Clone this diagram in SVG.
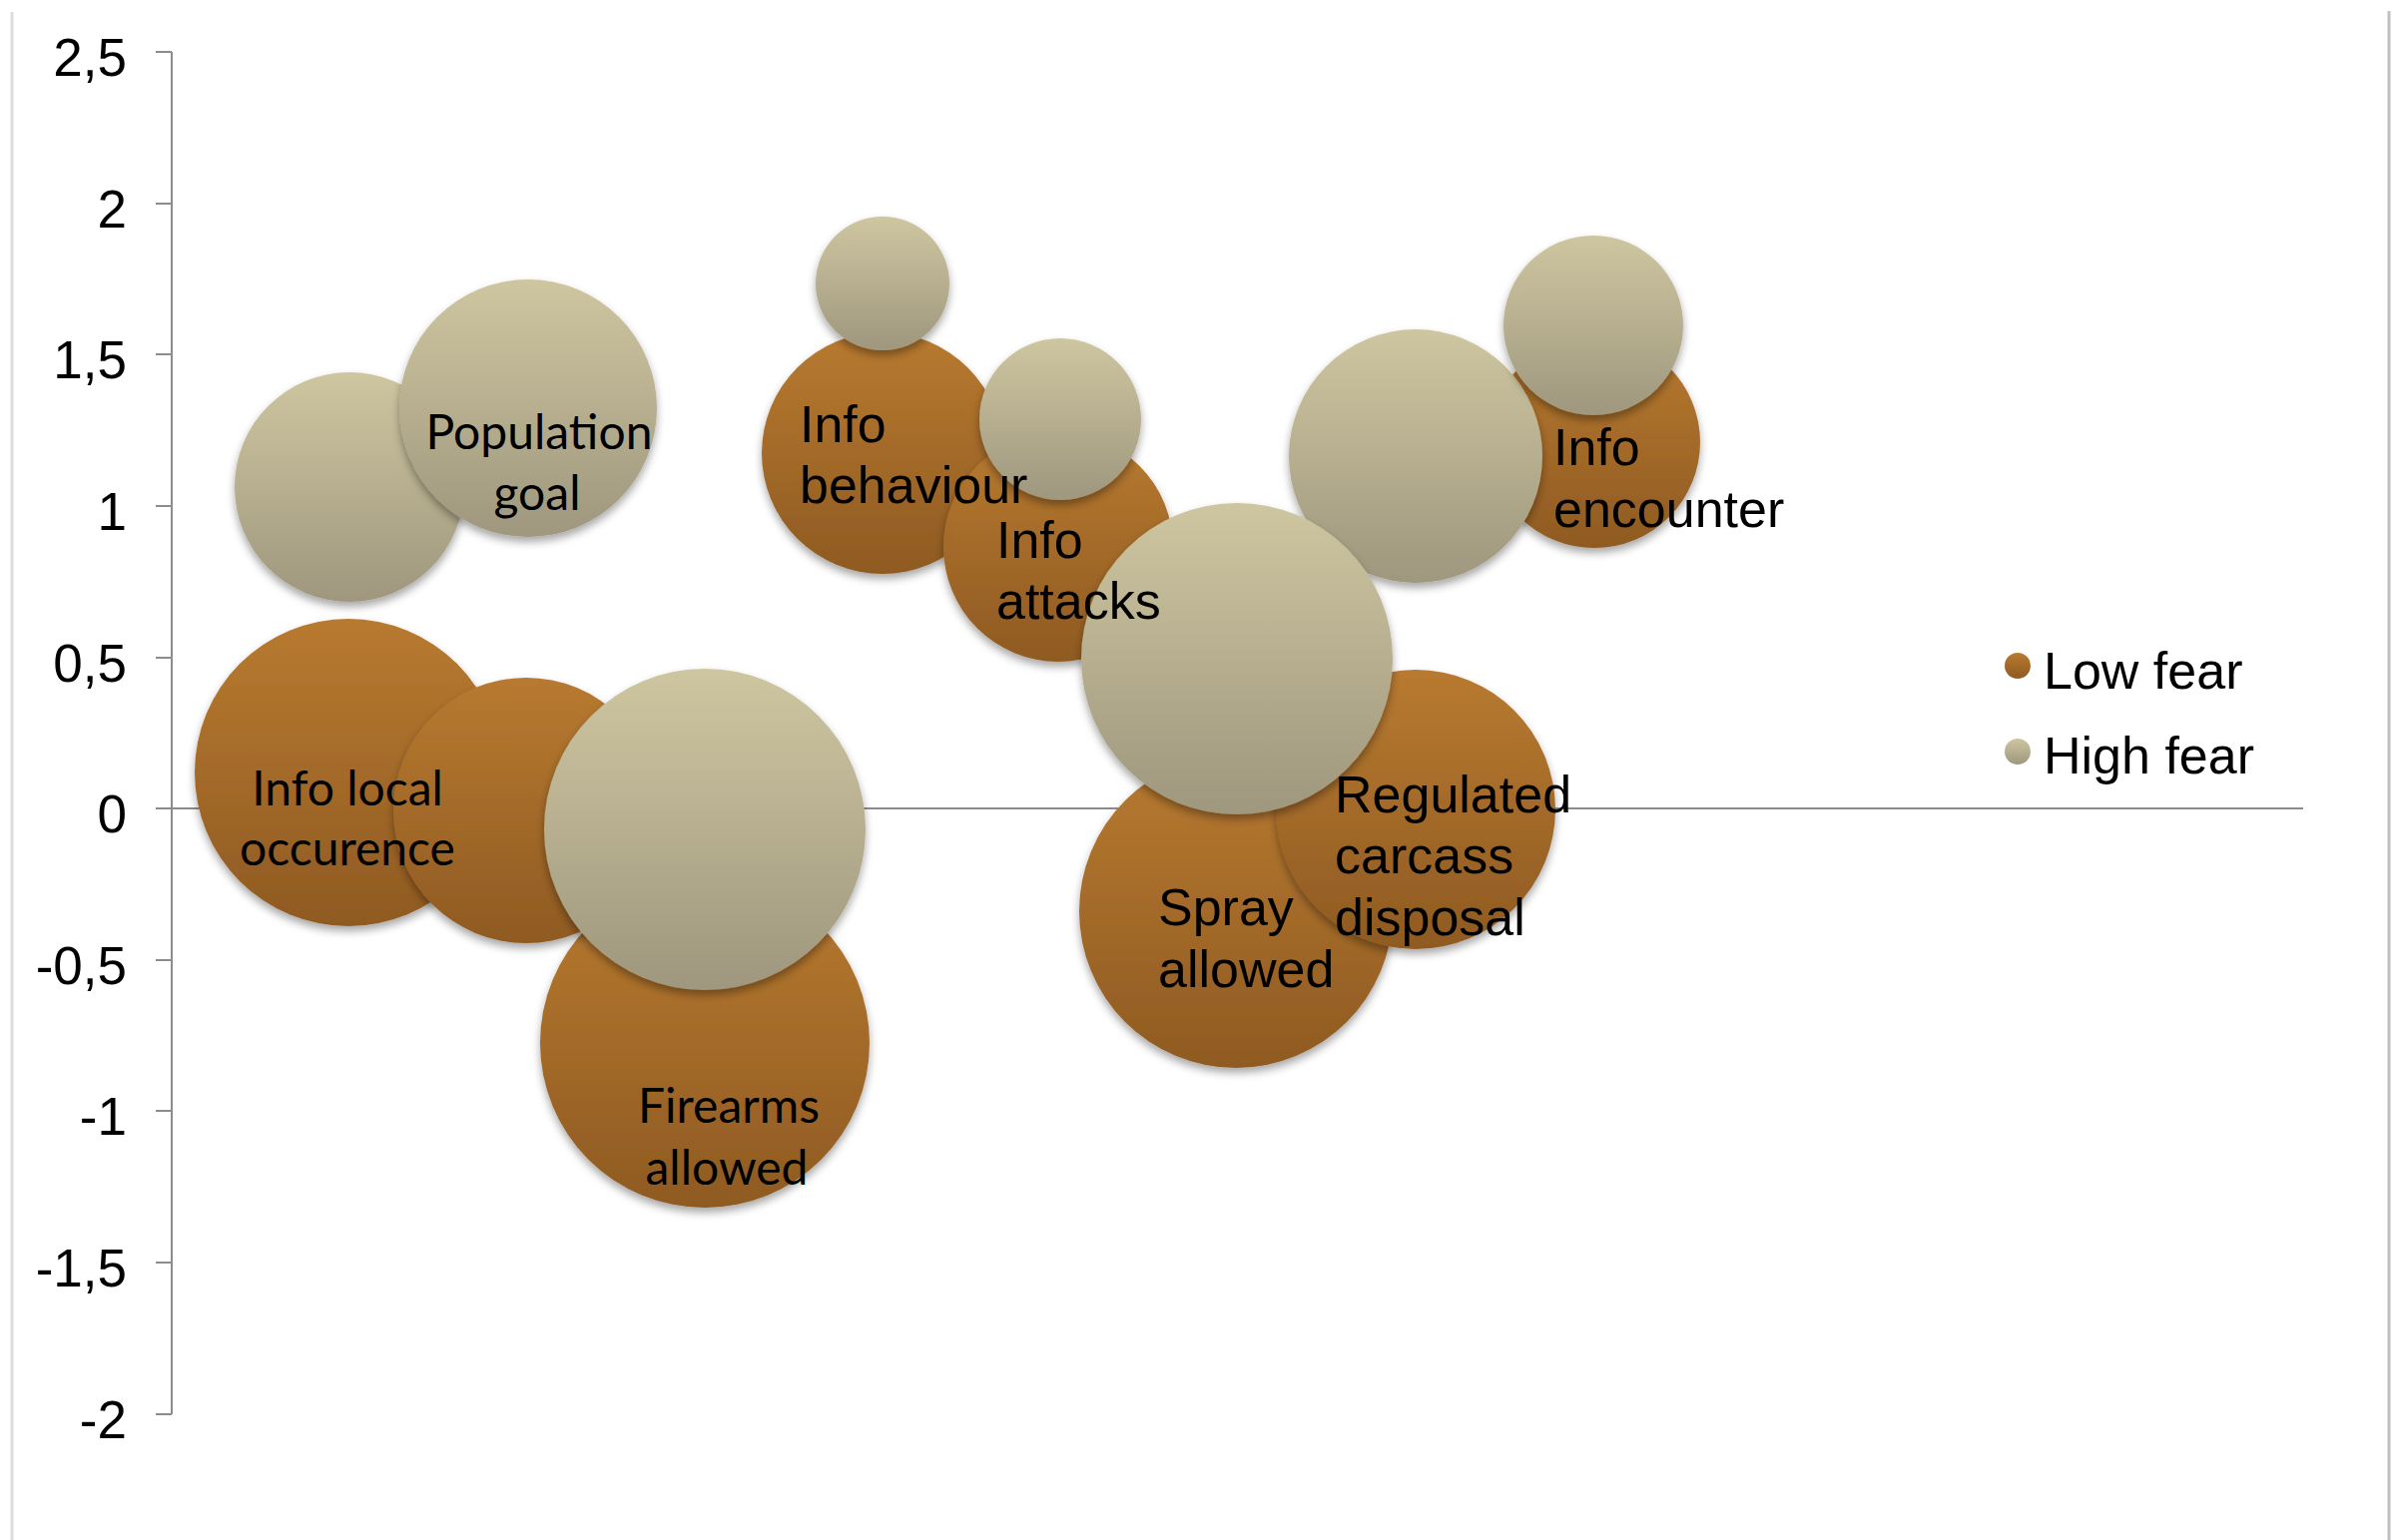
<svg xmlns="http://www.w3.org/2000/svg" width="2397" height="1543" viewBox="0 0 2397 1543">
<defs>
<linearGradient id="gLow" x1="0" y1="0" x2="0" y2="1">
<stop offset="0" stop-color="#b87a30"/>
<stop offset="1" stop-color="#8f5a22"/>
</linearGradient>
<linearGradient id="gHigh" x1="0" y1="0" x2="0" y2="1">
<stop offset="0" stop-color="#cec6a0"/>
<stop offset="1" stop-color="#9f977e"/>
</linearGradient>
<filter id="sh" x="-20%" y="-20%" width="140%" height="150%">
<feDropShadow dx="0" dy="5" stdDeviation="4" flood-color="#000" flood-opacity="0.35"/>
</filter>
<style>
.low{fill:url(#gLow);filter:url(#sh)}
.high{fill:url(#gHigh);filter:url(#sh)}
.ax{stroke:#8c8c8c;stroke-width:2;fill:none}
.tick{font-family:"Liberation Sans",Arial,sans-serif;font-size:53px;fill:#000;text-anchor:end}
.lbl{font-family:"Liberation Sans",Arial,sans-serif;font-size:52px;fill:#000}
.gill{font-family:Lato,"Liberation Sans",sans-serif;font-size:48px;fill:#000;text-anchor:middle}
.leg{font-family:"Liberation Sans",Arial,sans-serif;font-size:52px;fill:#000}
</style>
</defs>
<rect width="2397" height="1543" fill="#fff"/>
<line x1="12" y1="12" x2="12" y2="1543" stroke="#dcdcdc" stroke-width="3"/>
<line x1="2393" y1="11" x2="2393" y2="1543" stroke="#c0c0c0" stroke-width="3"/>

<g id="axes">
<line class="ax" x1="172" y1="52" x2="172" y2="1417"/>
<line class="ax" x1="172" y1="810" x2="2307" y2="810"/>
<path class="ax" d="M156 52H172M156 204H172M156 355H172M156 507H172M156 659H172M156 810H172M156 962H172M156 1113H172M156 1265H172M156 1417H172"/>
<text class="tick" x="127" y="76">2,5</text>
<text class="tick" x="127" y="228">2</text>
<text class="tick" x="127" y="379">1,5</text>
<text class="tick" x="127" y="531">1</text>
<text class="tick" x="127" y="683">0,5</text>
<text class="tick" x="127" y="834">0</text>
<text class="tick" x="127" y="986">-0,5</text>
<text class="tick" x="127" y="1137">-1</text>
<text class="tick" x="127" y="1289">-1,5</text>
<text class="tick" x="127" y="1441">-2</text>
</g>

<g id="connectors"></g>

<g id="low-series">
<circle id="low-firearms" class="low" cx="706" cy="1045" r="165"/>
<circle id="low-spray" class="low" cx="1238" cy="913" r="157"/>
<circle id="low-info-local" class="low" cx="349" cy="774" r="154"/>
<circle id="low-regulated" class="low" cx="1418" cy="811" r="140"/>
<circle id="low-population" class="low" cx="527" cy="812" r="133"/>
<circle id="low-info-behaviour" class="low" cx="884" cy="454" r="121"/>
<circle id="low-info-attacks" class="low" cx="1060" cy="548" r="115"/>
<circle id="low-info-encounter" class="low" cx="1597" cy="443" r="106"/>
</g>

<g id="high-series">
<circle id="high-info-local" class="high" cx="350" cy="488" r="115"/>
<circle id="high-population" class="high" cx="529" cy="409" r="129"/>
<circle id="high-regulated" class="high" cx="1418" cy="457" r="127"/>
<circle id="high-spray" class="high" cx="1239" cy="660" r="156"/>
<circle id="high-firearms" class="high" cx="706" cy="831" r="161"/>
<circle id="high-info-encounter" class="high" cx="1596" cy="326" r="90"/>
<circle id="high-info-attacks" class="high" cx="1062" cy="420" r="81"/>
<circle id="high-info-behaviour" class="high" cx="884" cy="284" r="67"/>
</g>

<g id="node-population-goal"><text class="gill" x="540" y="450">Population</text><text class="gill" x="538" y="511">goal</text></g>
<g id="node-info-local"><text class="gill" x="348" y="807">Info local</text><text class="gill" x="348" y="867">occurence</text></g>
<g id="node-firearms"><text class="gill" x="730" y="1125">Firearms</text><text class="gill" x="728" y="1187">allowed</text></g>
<g id="node-info-behaviour"><text class="lbl" x="801" y="443">Info</text><text class="lbl" x="801" y="504">behaviour</text></g>
<g id="node-info-attacks"><text class="lbl" x="998" y="559">Info</text><text class="lbl" x="998" y="620">attacks</text></g>
<g id="node-info-encounter"><text class="lbl" x="1556" y="466">Info</text><text class="lbl" x="1556" y="528">encounter</text></g>
<g id="node-spray"><text class="lbl" x="1160" y="927">Spray</text><text class="lbl" x="1160" y="989">allowed</text></g>
<g id="node-regulated"><text class="lbl" x="1337" y="814">Regulated</text><text class="lbl" x="1337" y="875">carcass</text><text class="lbl" x="1337" y="937">disposal</text></g>

<g id="legend">
<circle cx="2021" cy="667" r="13" fill="url(#gLow)"/>
<text class="leg" x="2047" y="690">Low fear</text>
<circle cx="2021" cy="753" r="13" fill="url(#gHigh)"/>
<text class="leg" x="2047" y="775">High fear</text>
</g>
</svg>
